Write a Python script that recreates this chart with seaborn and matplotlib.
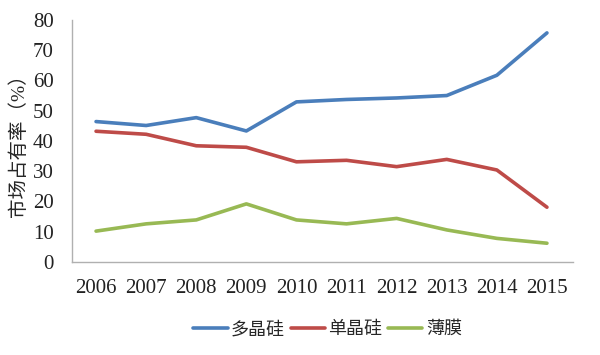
import pandas as pd
import matplotlib
matplotlib.use("Agg")
import matplotlib.pyplot as plt
import seaborn as sns

# Market share (%) by wafer technology
years = [2006, 2007, 2008, 2009, 2010, 2011, 2012, 2013, 2014, 2015]
poly_si = [46.4, 45.1, 47.7, 43.3, 52.9, 53.7, 54.2, 55.0, 61.7, 75.7]
mono_si = [43.2, 42.2, 38.4, 37.9, 33.1, 33.6, 31.5, 33.9, 30.4, 18.1]
thin_film = [10.2, 12.6, 13.9, 19.2, 13.9, 12.6, 14.4, 10.6, 7.8, 6.2]
series_names = ["多晶硅", "单晶硅", "薄膜"]

df = pd.DataFrame({
    "year": years * 3,
    "share": poly_si + mono_si + thin_film,
    "kind": [n for n in series_names for _ in years],
})
df["pos"] = df["year"] - years[0]

sns.set_style("white")
plt.rcParams["font.family"] = ["Liberation Serif", "Noto Sans CJK SC"]

fig = plt.figure(figsize=(6, 3.55), dpi=100)
ax = fig.add_axes([0.12, 0.262, 0.835, 0.682])

palette = {"多晶硅": "#4a7ebb", "单晶硅": "#be4b48", "薄膜": "#98b954"}
sns.lineplot(data=df, x="pos", y="share", hue="kind", palette=palette,
             linewidth=2.6, ax=ax, legend=True)

ax.set_xlim(-0.48, len(years) - 0.48)
ax.set_ylim(0, 80)
ax.set_xticks(range(len(years)))
ax.set_xticklabels([str(y) for y in years])
ax.set_yticks(range(0, 81, 10))
ax.tick_params(axis="both", length=0, labelsize=15, colors="#222222")
ax.tick_params(axis="x", pad=12)
ax.tick_params(axis="y", pad=13)
ax.set_xlabel("")
ax.set_ylabel("市场占有率（%）", fontsize=14, labelpad=4)

for side in ["top", "right"]:
    ax.spines[side].set_visible(False)
for side in ["left", "bottom"]:
    ax.spines[side].set_color("#b0b0b0")
    ax.spines[side].set_linewidth(1.0)

handles, labels = ax.get_legend_handles_labels()
ax.legend(handles, labels, loc="center", bbox_to_anchor=(0.51, -0.28),
          ncol=3, frameon=False, fontsize=13, handlelength=1.9,
          handletextpad=0.2, columnspacing=0.3)

fig.savefig("out.png", dpi=100)
